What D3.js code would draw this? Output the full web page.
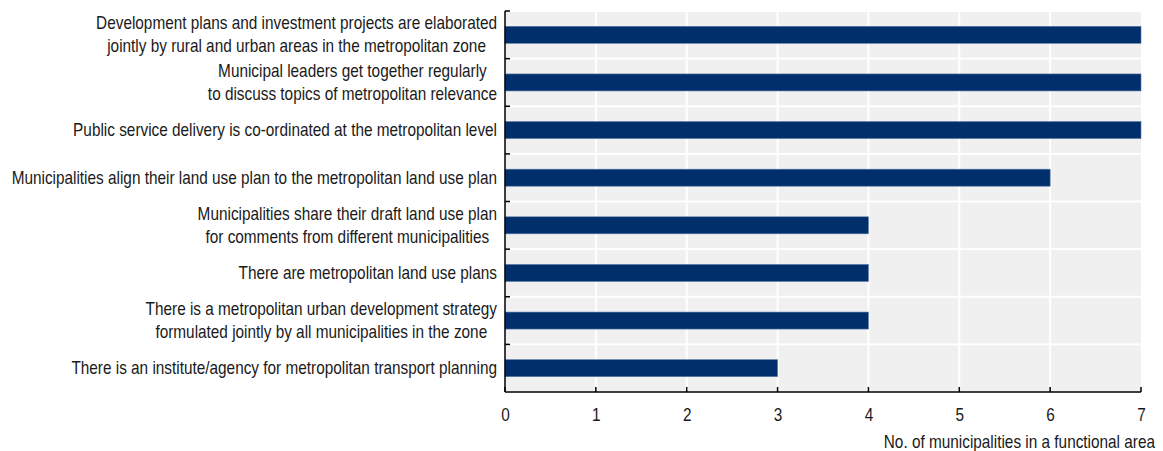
<!DOCTYPE html>
<html>
<head>
<meta charset="utf-8">
<script src="https://cdn.jsdelivr.net/npm/d3@7"></script>
<style>
  html, body { margin: 0; padding: 0; background: #fff; }
  svg text { font-family: "Liberation Sans", Arial, sans-serif; fill: #1a1a1a; }
</style>
</head>
<body>
<svg id="chart" width="1163" height="451"></svg>
<script>
// Metropolitan co-ordination practices, counted across municipalities
const categories = [
  ["Development plans and investment projects are elaborated", "jointly by rural and urban areas in the metropolitan zone"],
  ["Municipal leaders get together regularly", "to discuss topics of metropolitan relevance"],
  ["Public service delivery is co-ordinated at the metropolitan level"],
  ["Municipalities align their land use plan to the metropolitan land use plan"],
  ["Municipalities share their draft land use plan", "for comments from different municipalities"],
  ["There are metropolitan land use plans"],
  ["There is a metropolitan urban development strategy", "formulated jointly by all municipalities in the zone"],
  ["There is an institute/agency for metropolitan transport planning"]
];
const values = [7, 7, 7, 6, 4, 4, 4, 3];
const xTicks = [0, 1, 2, 3, 4, 5, 6, 7];
const xTitle = "No. of municipalities in a functional area";

const W = 1163, H = 451;
const margin = { left: 505, right: 22, top: 11, bottom: 59 };
const plotW = W - margin.left - margin.right;
const plotH = H - margin.top - margin.bottom;

// Condensed lettering: regular sans squeezed horizontally
const FS = 18;
const SX = 0.853;

const svg = d3.select("#chart");
const x = d3.scaleLinear().domain([0, 7]).range([0, plotW]);
const y = d3.scaleBand().domain(d3.range(categories.length)).range([0, plotH]);

const g = svg.append("g").attr("transform", `translate(${margin.left},${margin.top})`);

// Grey band tiles, separated by white gaps
g.append("g").selectAll("rect")
  .data(d3.range(categories.length))
  .join("rect")
  .attr("x", 0)
  .attr("y", i => y(i) + 1)
  .attr("width", plotW)
  .attr("height", y.bandwidth() - 2)
  .attr("fill", "#f0f0f0");

// Vertical white gridlines
g.append("g").selectAll("line")
  .data(xTicks.slice(1, -1))
  .join("line")
  .attr("x1", d => x(d)).attr("x2", d => x(d))
  .attr("y1", 0).attr("y2", plotH)
  .attr("stroke", "#fff").attr("stroke-width", 2);

// Bars
const barH = 17;
g.append("g").selectAll("rect")
  .data(values)
  .join("rect")
  .attr("x", 0)
  .attr("y", (d, i) => y(i) + y.bandwidth() / 2 - barH / 2)
  .attr("width", d => x(d))
  .attr("height", barH)
  .attr("fill", "#002f6c")
  .attr("stroke", "#5a7aa6")
  .attr("stroke-width", 0.6);

// Left axis with inward ticks at band boundaries
const leftAxis = g.append("g");
leftAxis.append("line")
  .attr("x1", 0).attr("x2", 0).attr("y1", 0).attr("y2", plotH)
  .attr("stroke", "#000").attr("stroke-width", 1.5);
leftAxis.selectAll("line.tk")
  .data(d3.range(categories.length))
  .join("line").attr("class", "tk")
  .attr("x1", 0).attr("x2", 5)
  .attr("y1", i => y(i)).attr("y2", i => y(i))
  .attr("stroke", "#000").attr("stroke-width", 1.5);

// Bottom axis (labels drawn condensed below)
const xAxis = d3.axisBottom(x).tickValues(xTicks).tickSize(0).tickFormat(() => "");
const xg = g.append("g").attr("transform", `translate(0,${plotH})`).call(xAxis);
xg.select(".domain").remove();
xg.append("line")
  .attr("x1", 0).attr("x2", plotW).attr("y1", 0).attr("y2", 0)
  .attr("stroke", "#000").attr("stroke-width", 1.5);
xg.selectAll("line.tk")
  .data(xTicks)
  .join("line").attr("class", "tk")
  .attr("x1", d => x(d)).attr("x2", d => x(d))
  .attr("y1", 0).attr("y2", -5)
  .attr("stroke", "#000").attr("stroke-width", 1.5);

function condensed(parent, px, py, txt, anchor) {
  return parent.append("g")
    .attr("transform", `translate(${px},${py}) scale(${SX},1)`)
    .append("text")
    .attr("font-size", FS)
    .attr("dominant-baseline", "central")
    .attr("text-anchor", anchor)
    .text(txt);
}

xg.selectAll("g.tick").each(function (d) {
  condensed(d3.select(this), 0, 23, d3.format("d")(d), "middle");
});

// Axis title
condensed(svg, 1155, 442, xTitle, "end");

// Category labels: multi-line labels are centred on each other, block right-aligned
const labelRight = margin.left - 8;
const lineH = 23;
const labels = svg.append("g");
categories.forEach((lines, i) => {
  const cy = margin.top + y(i) + y.bandwidth() / 2;
  const grp = labels.append("g");
  const texts = lines.map((ln, k) =>
    condensed(grp, 0, cy + (k - (lines.length - 1) / 2) * lineH, ln, "middle"));
  const maxW = d3.max(texts, t => t.node().getComputedTextLength()) * SX;
  texts.forEach(t => {
    const p = d3.select(t.node().parentNode);
    const ty = +p.attr("transform").match(/translate\([^,]+,([^)]+)\)/)[1];
    p.attr("transform", `translate(${labelRight - maxW / 2},${ty}) scale(${SX},1)`);
  });
});
</script>
</body>
</html>
